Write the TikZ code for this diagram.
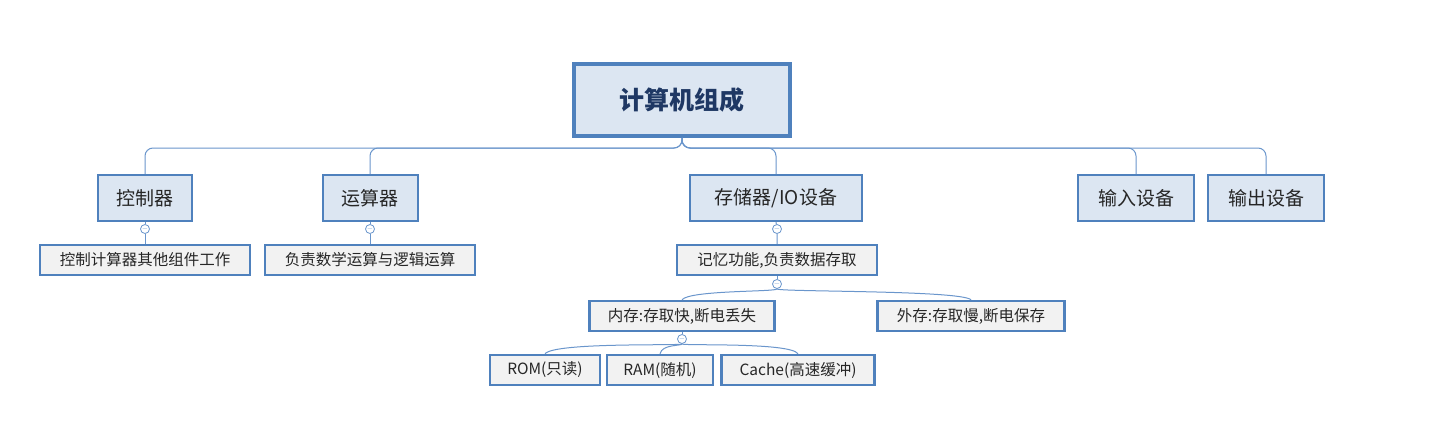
\documentclass[tikz,border=0pt]{standalone}
\usepackage{fontspec}
\setmainfont{Noto Sans CJK SC}
\definecolor{bd}{HTML}{4F81BD}
\definecolor{fl}{HTML}{DCE6F2}
\definecolor{gr}{HTML}{F2F2F2}
\definecolor{ln}{HTML}{6A96CC}
\definecolor{tx}{HTML}{1F3864}
\tikzset{
 root/.style={draw=bd,line width=3.5pt,fill=fl,minimum width=216pt,minimum height=72pt,font=\fontsize{25}{25}\selectfont\bfseries,text=tx},
 lvone/.style={draw=bd,line width=2pt,fill=fl,minimum height=46pt,font=\fontsize{19}{19}\selectfont,text=black!85,inner xsep=12pt},
 lvtwo/.style={draw=bd,line width=2.5pt,fill=gr,minimum height=30pt,font=\fontsize{15.5}{15.5}\selectfont,text=black!85,inner xsep=8pt},
 con/.style={draw=ln,line width=1pt},
 knob/.style={circle,draw=ln,fill=white,line width=0.8pt,inner sep=0pt,minimum size=9pt,font=\fontsize{7}{7}\selectfont,text=ln}
}
\begin{document}
\begin{tikzpicture}[x=1pt,y=-1pt]
\useasboundingbox[fill=white] (0,0) rectangle (1435,429);
\node[root] (r) at (682,100) {计算机组成};
\node[lvone,minimum width=94pt] (a) at (145,198) {控制器};
\node[lvone,minimum width=95pt] (b) at (370,198) {运算器};
\node[lvone,minimum width=172pt] (c) at (776,198) {存储器/IO设备};
\node[lvone,minimum width=116pt] (d) at (1136,198) {输入设备};
\node[lvone,minimum width=116pt] (e) at (1266,198) {输出设备};
\node[lvtwo,minimum width=210pt] (a1) at (145,260) {控制计算器其他组件工作};
\node[lvtwo,minimum width=210pt] (b1) at (370,260) {负责数学运算与逻辑运算};
\node[lvtwo,minimum width=200pt] (c1) at (777,260) {记忆功能,负责数据存取};
\node[lvtwo,minimum width=185pt] (m1) at (682,316) {内存:存取快,断电丢失};
\node[lvtwo,minimum width=187pt] (m2) at (971,316) {外存:存取慢,断电保存};
\node[lvtwo,minimum width=110pt] (s1) at (545,370) {ROM(只读)};
\node[lvtwo,minimum width=106pt] (s2) at (660,370) {RAM(随机)};
\node[lvtwo,minimum width=153pt] (s3) at (798,370) {Cache(高速缓冲)};
\coordinate (bus) at (682,148);
\foreach \n in {a,b,c,d,e}{
 \draw[con,rounded corners=8pt] (r.south) -- (bus) -| (\n.north);
}
\node[knob] (ka) at (145,229) {$-$};
\node[knob] (kb) at (370,229) {$-$};
\node[knob] (kc) at (777,229) {$-$};
\node[knob] (kc1) at (777,284) {$-$};
\node[knob] (km) at (682,339) {$-$};
\draw[con] (a.south) -- (ka) -- (a1.north);
\draw[con] (b.south) -- (kb) -- (b1.north);
\draw[con] (c.south) -- (kc) -- (c1.north);
\draw[con] (c1.south) -- (kc1);
\draw[con] (kc1.south) .. controls (777,292) and (690,290) .. (m1.north);
\draw[con] (kc1.south) .. controls (777,292) and (960,290) .. (m2.north);
\draw[con] (m1.south) -- (km);
\draw[con] (km.south) .. controls (682,346) and (555,342) .. (s1.north);
\draw[con] (km.south) .. controls (682,346) and (662,344) .. (s2.north);
\draw[con] (km.south) .. controls (682,346) and (790,342) .. (s3.north);
\end{tikzpicture}
\end{document}
